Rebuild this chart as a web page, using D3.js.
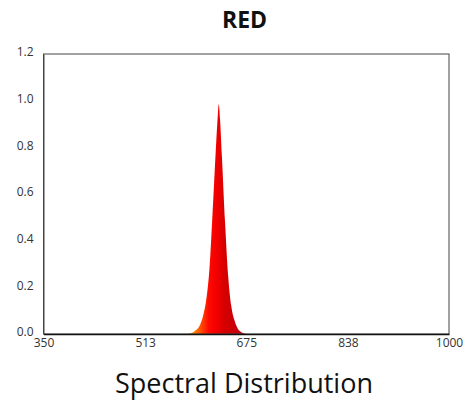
<!DOCTYPE html>
<html>
<head>
<meta charset="utf-8">
<title>RED</title>
<script src="https://cdn.jsdelivr.net/npm/d3@7"></script>
<style>
  body { margin: 0; background: #fff; }
  svg text { font-family: "Open Sans", "Noto Sans", sans-serif; }
</style>
</head>
<body>
<script>
// spectrum (wavelength nm -> relative intensity)
var wavelengths = [581, 586, 591, 596, 601, 606, 611, 616, 621, 626, 629, 631, 633, 636, 641, 646, 651, 656, 661, 666, 671, 676];
var intensity   = [0, 0.003, 0.01, 0.02, 0.04, 0.08, 0.15, 0.28, 0.52, 0.78, 0.92, 0.985, 0.92, 0.76, 0.48, 0.25, 0.12, 0.06, 0.025, 0.01, 0.003, 0];
var xTicks = [350, 513, 675, 838, 1000];
var yTicks = [0, 0.2, 0.4, 0.6, 0.8, 1.0, 1.2];
var title = "RED";
var xTitle = "Spectral Distribution";

var svgWidth = 465, svgHeight = 404;
var margin = {top: 54, right: 16, bottom: 70, left: 43.5},
    width = svgWidth - margin.left - margin.right,
    height = svgHeight - margin.top - margin.bottom;

var svg = d3.select("body").append("svg")
    .attr("width", svgWidth)
    .attr("height", svgHeight);

var data = wavelengths.map(function(w, i) { return {w: w, v: intensity[i]}; });

var x = d3.scaleLinear().domain([350, 1000]).range([0, width]);
var y = d3.scaleLinear().domain([0, 1.2]).range([height, 0]);

// colour by wavelength
var grad = svg.append("defs").append("linearGradient")
    .attr("id", "spec")
    .attr("gradientUnits", "userSpaceOnUse")
    .attr("x1", x(590)).attr("x2", x(665))
    .attr("y1", 0).attr("y2", 0);
[[0, "#ff8a00"], [0.17, "#ff4a00"], [0.33, "#ff0a00"], [0.5, "#f20000"], [0.68, "#d40000"], [1, "#c4000c"]]
  .forEach(function(s) { grad.append("stop").attr("offset", s[0]).attr("stop-color", s[1]); });

var g = svg.append("g")
    .attr("transform", "translate(" + margin.left + "," + margin.top + ")");

var area = d3.area()
    .curve(d3.curveMonotoneX)
    .x(function(d) { return x(d.w); })
    .y0(height)
    .y1(function(d) { return y(d.v); });

g.append("path")
    .datum(data)
    .attr("fill", "url(#spec)")
    .attr("d", area);

// frame
g.append("rect")
    .attr("width", width).attr("height", height)
    .attr("fill", "none")
    .attr("stroke", "#444")
    .attr("stroke-width", 1);

var xAxis = d3.axisBottom(x).tickValues(xTicks).tickSize(0).tickPadding(4)
    .tickFormat(d3.format("d"));
var yAxis = d3.axisLeft(y).tickValues(yTicks).tickSize(0).tickPadding(10)
    .tickFormat(d3.format(".1f"));

var gx = g.append("g")
    .attr("transform", "translate(0," + height + ")")
    .call(xAxis);
gx.select(".domain").attr("stroke", "#111").attr("stroke-width", 1.5);
gx.selectAll("text").attr("font-size", 12).attr("fill", "#333");

var gy = g.append("g").call(yAxis);
gy.select(".domain").attr("stroke", "#444");
gy.selectAll("text").attr("font-size", 12).attr("fill", "#333").attr("dy", "0.15em");

svg.append("text")
    .attr("x", 244.5).attr("y", 28)
    .attr("text-anchor", "middle")
    .attr("font-size", 23).attr("font-weight", "bold")
    .attr("fill", "#111")
    .text(title);

svg.append("text")
    .attr("x", 244).attr("y", 393)
    .attr("text-anchor", "middle")
    .attr("font-size", 27)
    .attr("fill", "#111")
    .text(xTitle);
</script>
</body>
</html>
